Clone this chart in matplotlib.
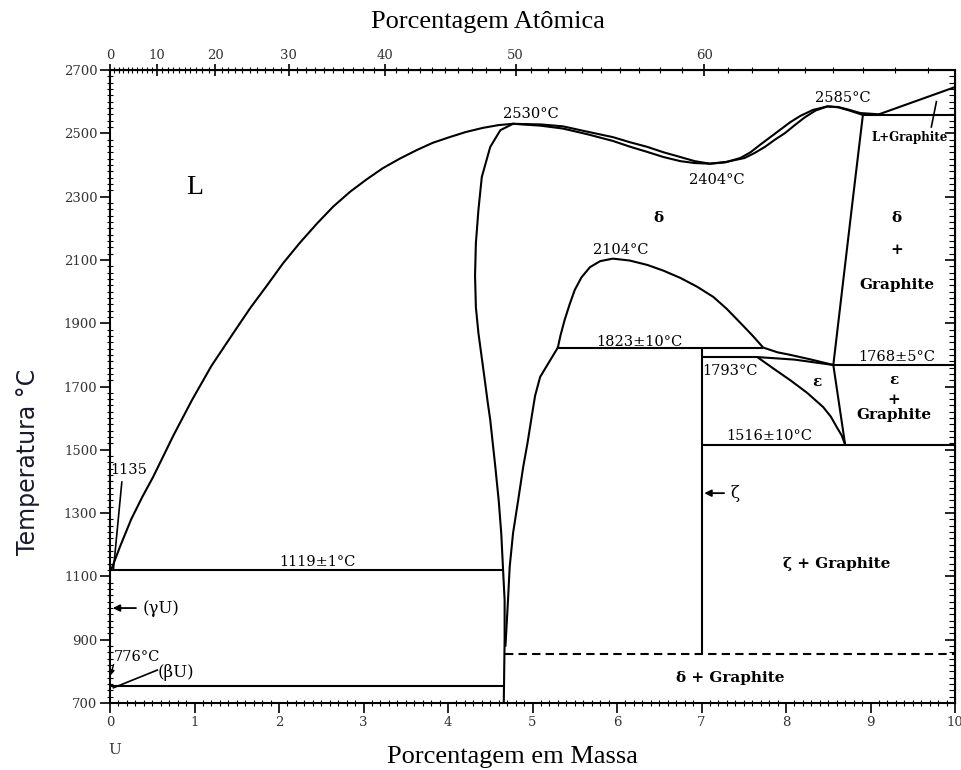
import numpy as np
import matplotlib
matplotlib.use("Agg")
import matplotlib.pyplot as plt
from matplotlib.ticker import MultipleLocator

# U-C phase diagram, mass % C on x, temperature in degC on y

# liquidus, U side up to the 2530 maximum
liq_left_w = [0.02, 0.12, 0.25, 0.38, 0.51, 0.75, 0.97, 1.20, 1.46, 1.66, 1.86, 2.05, 2.25,
              2.45, 2.64, 2.84, 3.04, 3.23, 3.43, 3.63, 3.82, 4.02, 4.21, 4.41, 4.60, 4.77]
liq_left_T = [1125, 1195, 1280, 1350, 1414, 1545, 1657, 1765, 1869, 1948, 2020, 2090, 2155,
              2215, 2268, 2315, 2355, 2390, 2420, 2447, 2470, 2488, 2504, 2517, 2526, 2530]

# left boundary of delta (UC)
delta_left_w = [4.77, 4.62, 4.50, 4.40, 4.36, 4.33, 4.32, 4.33, 4.36, 4.40, 4.44, 4.47,
                4.50, 4.53, 4.56, 4.60, 4.63, 4.65, 4.67, 4.67, 4.66]
delta_left_T = [2530, 2510, 2457, 2362, 2258, 2153, 2050, 1950, 1869, 1790, 1711, 1650,
                1594, 1520, 1446, 1340, 1237, 1130, 1025, 900, 700]

# lower right branch of delta below 1823
delta_low_w = [5.30, 5.18, 5.09, 5.03, 4.99, 4.94, 4.89, 4.83, 4.77, 4.73, 4.71, 4.68]
delta_low_T = [1823, 1770, 1730, 1670, 1604, 1520, 1446, 1340, 1237, 1130, 1025, 880]

# 2104 dome
dome_w = [5.30, 5.33, 5.38, 5.44, 5.50, 5.58, 5.68, 5.80, 5.95, 6.15, 6.36, 6.55,
          6.75, 6.95, 7.14, 7.30, 7.46, 7.60, 7.73, 7.90, 8.05, 8.30, 8.56]
dome_T = [1823, 1860, 1910, 1960, 2005, 2045, 2077, 2096, 2104, 2098, 2084, 2066,
          2043, 2015, 1983, 1945, 1901, 1862, 1823, 1808, 1800, 1785, 1768]

# liquidus and solidus between 2530, 2404 and 2585
liq_right_w = [4.77, 5.10, 5.36, 5.65, 5.95, 6.15, 6.36, 6.55, 6.75, 6.92, 7.10, 7.28,
               7.46, 7.58, 7.69, 7.81, 7.93, 8.05, 8.17, 8.32, 8.49, 8.62, 8.75, 8.88, 9.10]
liq_right_T = [2530, 2528, 2522, 2505, 2488, 2472, 2457, 2440, 2425, 2412, 2404, 2408,
               2422, 2440, 2463, 2487, 2511, 2535, 2555, 2574, 2585, 2583, 2574, 2564, 2560]
sol_right_w = [4.77, 5.10, 5.36, 5.65, 5.95, 6.15, 6.36, 6.55, 6.75, 6.92, 7.10, 7.30,
               7.51, 7.63, 7.75, 7.87, 7.99, 8.10, 8.22, 8.35, 8.49, 8.62, 8.75, 8.91]
sol_right_T = [2530, 2524, 2515, 2497, 2476, 2458, 2441, 2425, 2412, 2406, 2404, 2410,
               2422, 2438, 2457, 2480, 2501, 2525, 2550, 2572, 2585, 2582, 2572, 2558]

# liquidus on the graphite side
liq_gr_w = [9.10, 10.0]
liq_gr_T = [2560, 2646]

# delta / delta+graphite boundary
delta_gr_w = [8.91, 8.79, 8.56]
delta_gr_T = [2558, 2290, 1768]

# epsilon (U2C3) field
eps_left_w = [7.66, 7.85, 8.05, 8.25, 8.44, 8.53, 8.60, 8.66, 8.70]
eps_left_T = [1793, 1757, 1720, 1680, 1635, 1605, 1572, 1545, 1516]
eps_top_w = [7.66, 8.10, 8.56]
eps_top_T = [1793, 1785, 1768]
eps_right_w = [8.56, 8.70]
eps_right_T = [1768, 1516]

# isotherms: (temperature, from w, to w)
iso_T = [2558, 1823, 1793, 1768, 1516, 1119, 753]
iso_w0 = [8.91, 5.30, 7.00, 8.56, 7.00, 0.0, 0.0]
iso_w1 = [10.0, 7.73, 7.66, 10.0, 10.0, 4.66, 4.66]

zeta_w = 7.0
zeta_T = [1823, 855]
dashed_T = 855
dashed_w = [4.68, 10.0]

top_ticks = [0, 10, 20, 30, 40, 50, 60]


def mass_to_atomic(w):
    w = np.asarray(w, dtype=float) / 100
    with np.errstate(divide="ignore", invalid="ignore"):
        return 100 * 238 * w / (12 * (1 - w) + 238 * w)


def atomic_to_mass(a):
    a = np.asarray(a, dtype=float) / 100
    with np.errstate(divide="ignore", invalid="ignore"):
        return 100 * 12 * a / (12 * a + 238 * (1 - a))


fig = plt.figure(figsize=(9.62, 7.70), dpi=100)
ax = fig.add_axes([110 / 962, 1 - 703 / 770, 845 / 962, 633 / 770])
ax.set_xlim(0, 10)
ax.set_ylim(700, 2700)

lw = 1.5
kw = dict(color="black", lw=lw, solid_capstyle="round", solid_joinstyle="round")
for xs, ys in [(liq_left_w, liq_left_T), (delta_left_w, delta_left_T),
               (delta_low_w, delta_low_T), (dome_w, dome_T),
               (liq_right_w, liq_right_T), (sol_right_w, sol_right_T),
               (liq_gr_w, liq_gr_T), (delta_gr_w, delta_gr_T),
               (eps_left_w, eps_left_T), (eps_top_w, eps_top_T),
               (eps_right_w, eps_right_T)]:
    ax.plot(xs, ys, **kw)

ax.hlines(iso_T, iso_w0, iso_w1, color="black", lw=lw)
ax.vlines(zeta_w, zeta_T[1], zeta_T[0], color="black", lw=lw)
ax.hlines(dashed_T, dashed_w[0], dashed_w[1], color="black", lw=lw,
          linestyles=(0, (4, 2.5)))

# ticks
ax.set_yticks(np.arange(700, 2701, 200))
ax.yaxis.set_minor_locator(MultipleLocator(20))
ax.xaxis.set_major_locator(MultipleLocator(1))
ax.xaxis.set_minor_locator(MultipleLocator(0.1))
ax.tick_params(which="major", direction="out", length=7, width=1.2, pad=2)
ax.tick_params(which="minor", direction="inout", length=4, width=0.8)
for lab in ax.get_xticklabels() + ax.get_yticklabels():
    lab.set_fontfamily("DejaVu Serif")
    lab.set_fontsize(9.5)
    lab.set_color("#333333")
for sp in ax.spines.values():
    sp.set_linewidth(1.5)

right = ax.secondary_yaxis("right")
right.set_yticks(np.arange(700, 2701, 200))
right.yaxis.set_minor_locator(MultipleLocator(20))
right.tick_params(which="major", direction="in", length=7, width=1.2, labelright=False)
right.tick_params(which="minor", direction="in", length=4, width=0.8)

top = ax.secondary_xaxis("top", functions=(mass_to_atomic, atomic_to_mass))
top.set_xticks(top_ticks)
top.xaxis.set_minor_locator(MultipleLocator(1))
top.tick_params(which="major", direction="inout", length=8, width=1.2, pad=2)
top.tick_params(which="minor", direction="inout", length=4, width=0.8)
for lab in top.get_xticklabels():
    lab.set_fontfamily("DejaVu Serif")
    lab.set_fontsize(9.5)
    lab.set_color("#333333")

# axis titles
fig.text(488 / 962, 1 - 28 / 770, "Porcentagem Atômica", family="Liberation Serif",
         size=19, ha="center", va="baseline")
fig.text(512 / 962, 1 - 763 / 770, "Porcentagem em Massa", family="Liberation Serif",
         size=19, ha="center", va="baseline")
fig.text(28 / 962, 1 - 462 / 770, "Temperatura °C", family="DejaVu Sans", size=17,
         rotation=90, ha="center", va="center", color="#1a1a2e")

# labels inside the diagram
num = dict(family="DejaVu Serif", size=10.5, ha="center", va="center")
phase = dict(family="DejaVu Serif", size=11, weight="bold", ha="center", va="center")

ax.text(1.0, 2330, "L", family="Liberation Serif", size=20, ha="center", va="center")
ax.text(4.98, 2560, "2530°C", **num)
ax.text(7.18, 2352, "2404°C", **num)
ax.text(8.67, 2612, "2585°C", **num)
ax.text(9.46, 2488, "L+Graphite", family="DejaVu Serif", size=8.5, weight="bold",
        ha="center", va="center")
ax.plot([9.72, 9.78], [2520, 2600], color="black", lw=1.2)
ax.text(6.49, 2232, "δ", **phase)
ax.text(9.31, 2232, "δ", **phase)
ax.text(9.31, 2131, "+", **phase)
ax.text(9.31, 2021, "Graphite", **phase)
ax.text(6.04, 2131, "2104°C", **num)
ax.text(6.26, 1841, "1823±10°C", **num)
ax.text(7.34, 1749, "1793°C", **num)
ax.text(8.37, 1714, "ε", **phase)
ax.text(9.31, 1793, "1768±5°C", **num)
ax.text(9.28, 1720, "ε", **phase)
ax.text(9.28, 1657, "+", **phase)
ax.text(9.28, 1610, "Graphite", **phase)
ax.text(7.80, 1544, "1516±10°C", **num)
ax.text(8.60, 1140, "ζ + Graphite", **phase)
ax.text(7.34, 779, "δ + Graphite", **phase)
ax.text(2.46, 1145, "1119±1°C", **num)

# notes at the U end
ax.text(0.22, 1436, "1135", **num)
ax.plot([0.04, 0.14], [1120, 1398], color="black", lw=1.2)
ax.annotate("", xy=(0.0, 1000), xytext=(0.34, 1000),
            arrowprops=dict(arrowstyle="-|>", color="black", lw=1.3, mutation_scale=10))
ax.text(0.39, 1000, "(γU)", family="DejaVu Serif", size=12, ha="left", va="center")
ax.text(0.32, 845, "776°C", **num)
ax.annotate("", xy=(0.0, 779), xytext=(0.05, 830),
            arrowprops=dict(arrowstyle="-|>", color="black", lw=1.0, mutation_scale=7))
ax.plot([0.04, 0.56], [748, 804], color="black", lw=1.2)
ax.text(0.56, 795, "(βU)", family="DejaVu Serif", size=12, ha="left", va="center")
ax.annotate("", xy=(7.0, 1363), xytext=(7.30, 1363),
            arrowprops=dict(arrowstyle="-|>", color="black", lw=1.3, mutation_scale=10))
ax.text(7.34, 1363, "ζ", family="DejaVu Serif", size=12, ha="left", va="center")
ax.text(0.06, 552, "U", family="DejaVu Serif", size=11, ha="center", va="center",
        color="#333333", clip_on=False)

fig.savefig("out.png", dpi=100)
